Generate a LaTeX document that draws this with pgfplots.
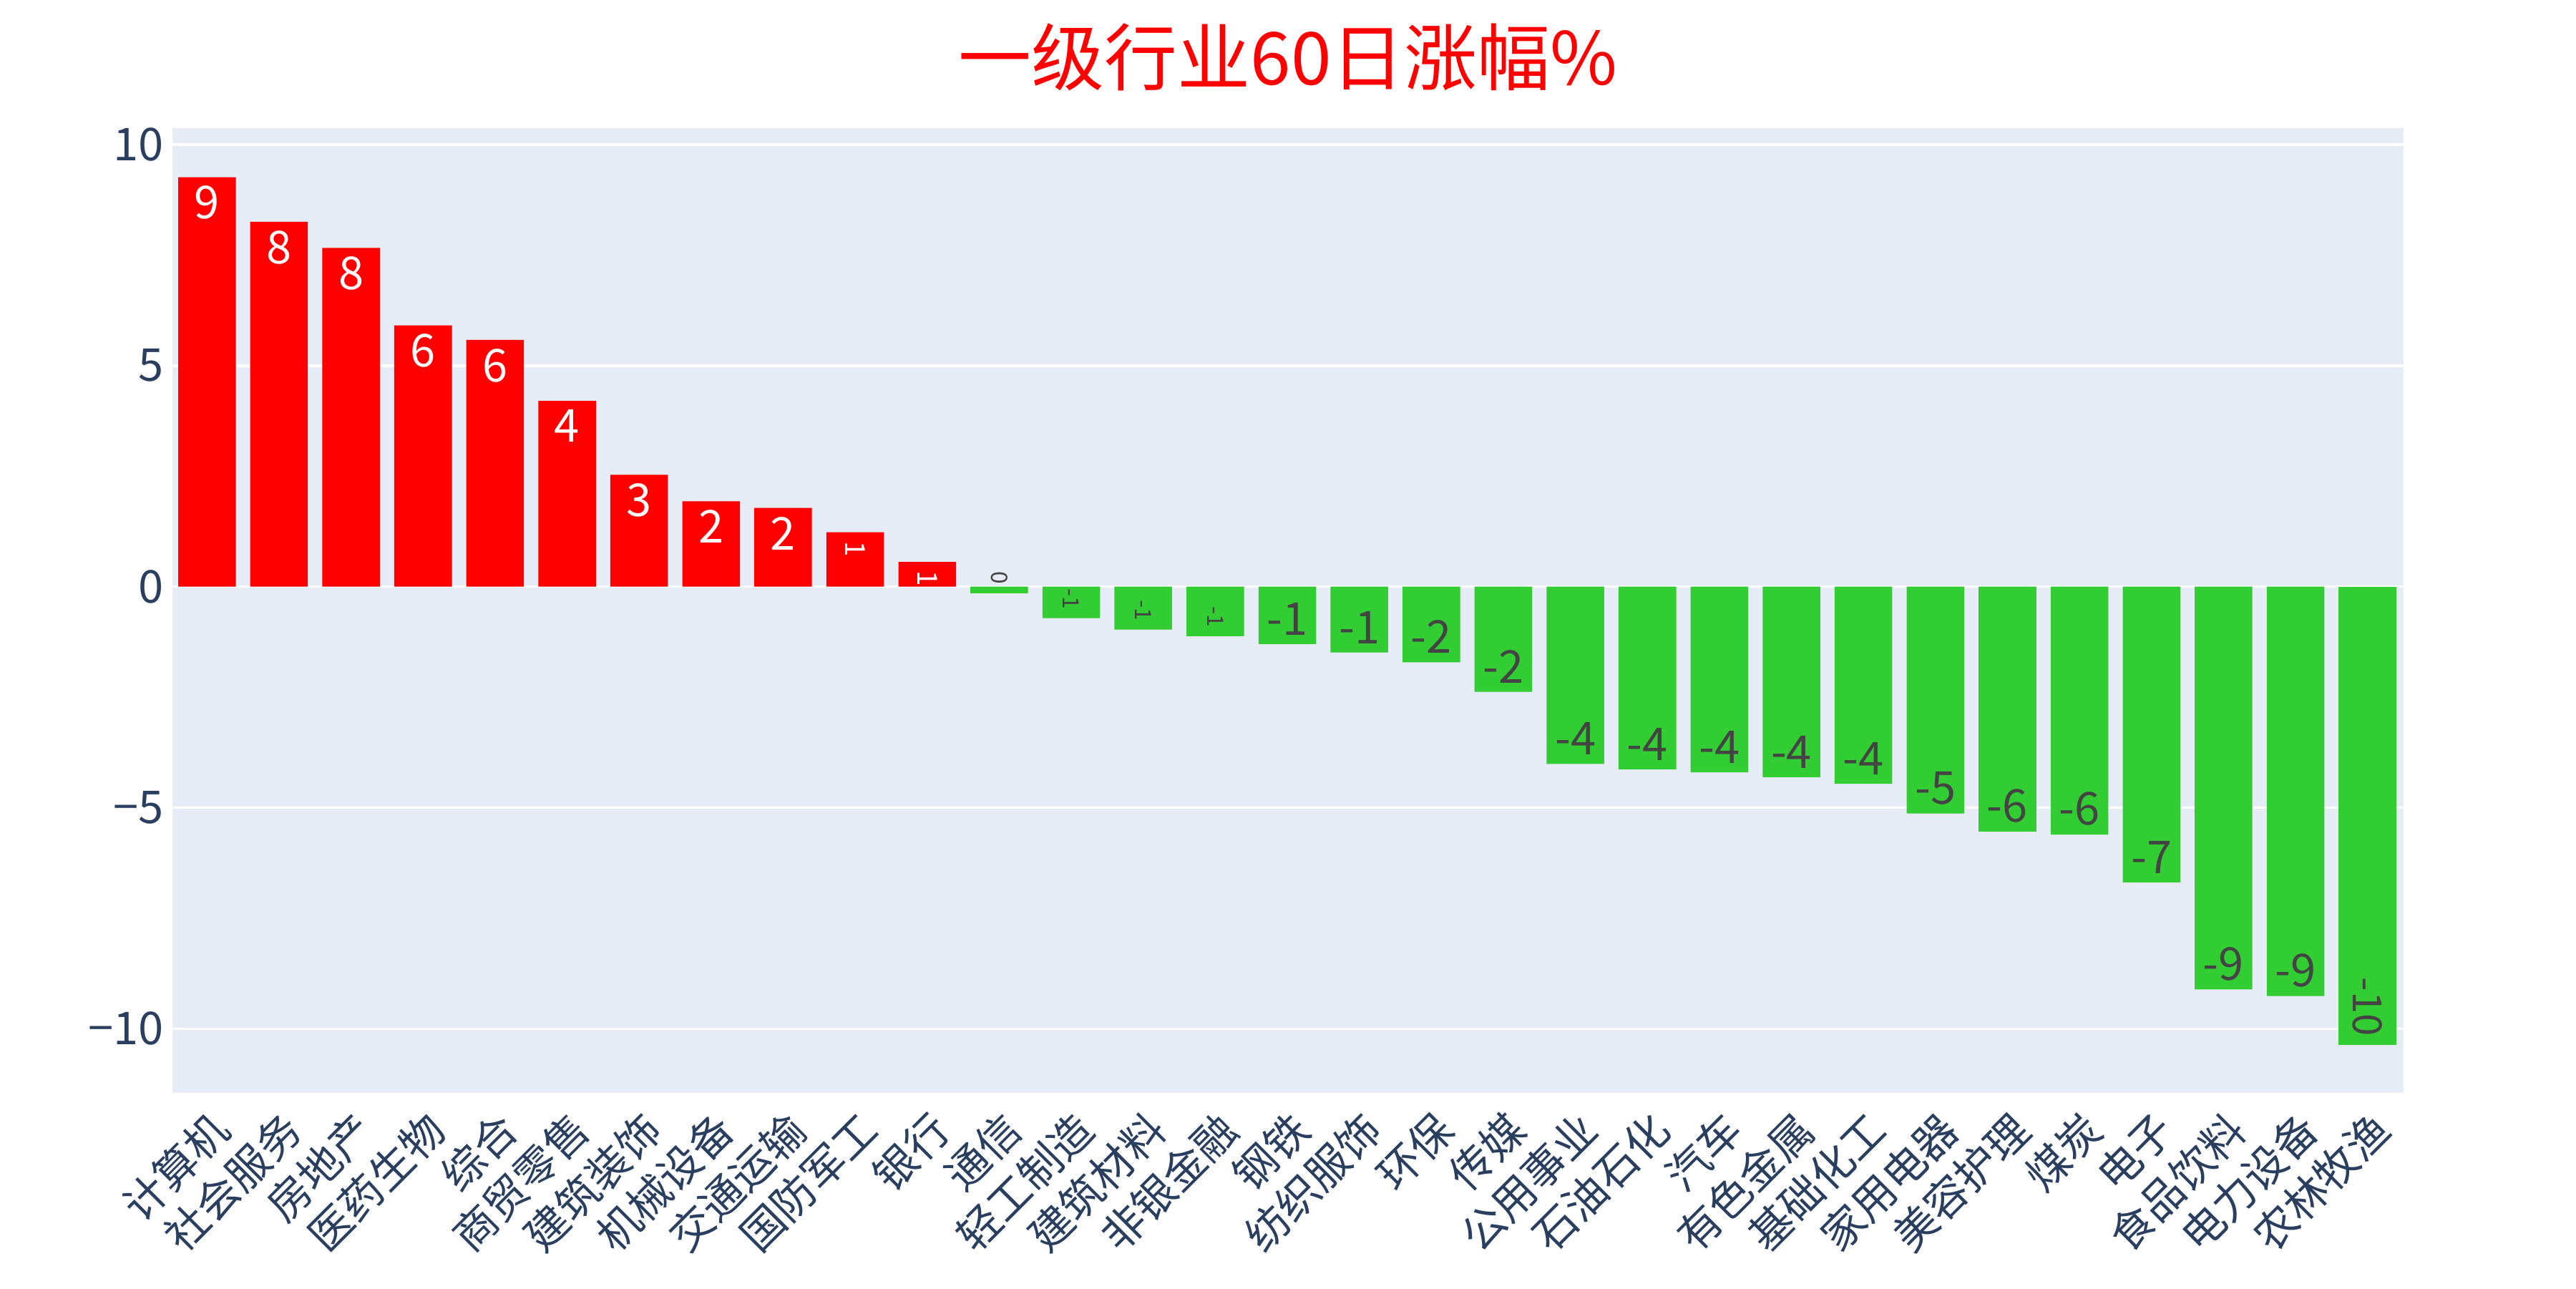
\documentclass[border=0pt]{standalone}
\usepackage{fontspec}
\setmainfont{Noto Sans CJK SC}
\usepackage{pgfplots}
\pgfplotsset{compat=1.18}
\definecolor{bg}{HTML}{E5ECF6}
\definecolor{txt}{HTML}{2A3F5F}
\definecolor{gr}{HTML}{32CD32}
\definecolor{lab}{HTML}{444444}
\begin{document}
\begin{tikzpicture}
\useasboundingbox (0,0) rectangle (360mm,180mm);
\node[text=red,font=\fontsize{29}{32}\selectfont] at (180mm,172mm) {一级行业60日涨幅\%};
\begin{axis}[at={(24.1mm,27.3mm)},anchor=south west,scale only axis,
 width=311.8mm,height=134.8mm,
 xmin=-0.48,xmax=30.5,ymin=-11.45,ymax=10.37,
 axis background/.style={fill=bg},axis line style={draw=none},
 major grid style={white,line width=1pt},ymajorgrids,
 tick style={draw=none},
 ytick={-10,-5,0,5,10},yticklabels={−10,−5,0,5,10},
 yticklabel style={font=\fontsize{18}{20}\selectfont,text=txt},
 xtick={0,...,30},
 xticklabels={计算机,社会服务,房地产,医药生物,综合,商贸零售,建筑装饰,机械设备,交通运输,国防军工,银行,通信,轻工制造,建筑材料,非银金融,钢铁,纺织服饰,环保,传媒,公用事业,石油石化,汽车,有色金属,基础化工,家用电器,美容护理,煤炭,电子,食品饮料,电力设备,农林牧渔},
 xticklabel style={font=\fontsize{17}{19}\selectfont,text=txt,rotate=45,anchor=north east,inner sep=1pt},
 ybar,bar width=0.8,bar shift=0pt,
 nodes near coords,point meta=explicit symbolic,
]
\addplot[fill=red,draw=none,every node near coord/.append style={anchor=north,text=white,font=\fontsize{18}{20}\selectfont}] coordinates {
(0,9.26)[9] (1,8.25)[8] (2,7.66)[8] (3,5.91)[6] (4,5.58)[6] (5,4.2)[4] (6,2.53)[3] (7,1.93)[2] (8,1.78)[2]};
\addplot[fill=red,draw=none,every node near coord/.append style={anchor=west,rotate=-90,text=white,font=\fontsize{11}{12}\selectfont}] coordinates {
(9,1.23)[1] (10,0.56)[1]};
\addplot[fill=gr,draw=none,every node near coord/.append style={anchor=east,rotate=-90,text=lab,font=\fontsize{9}{10}\selectfont}] coordinates {
(11,-0.15)[0] (12,-0.71)[-1] (13,-0.97)[-1] (14,-1.12)[-1]};
\addplot[fill=gr,draw=none,every node near coord/.append style={anchor=south,text=lab,font=\fontsize{18}{20}\selectfont}] coordinates {
(15,-1.30)[-1] (16,-1.49)[-1] (17,-1.71)[-2] (18,-2.38)[-2] (19,-4.01)[-4] (20,-4.13)[-4] (21,-4.2)[-4] (22,-4.31)[-4] (23,-4.46)[-4] (24,-5.13)[-5] (25,-5.54)[-6] (26,-5.61)[-6] (27,-6.69)[-7] (28,-9.11)[-9] (29,-9.26)[-9]};
\addplot[fill=gr,draw=none,every node near coord/.append style={anchor=east,rotate=-90,text=lab,font=\fontsize{16}{18}\selectfont}] coordinates {
(30,-10.37)[-10]};
\end{axis}
\end{tikzpicture}
\end{document}
